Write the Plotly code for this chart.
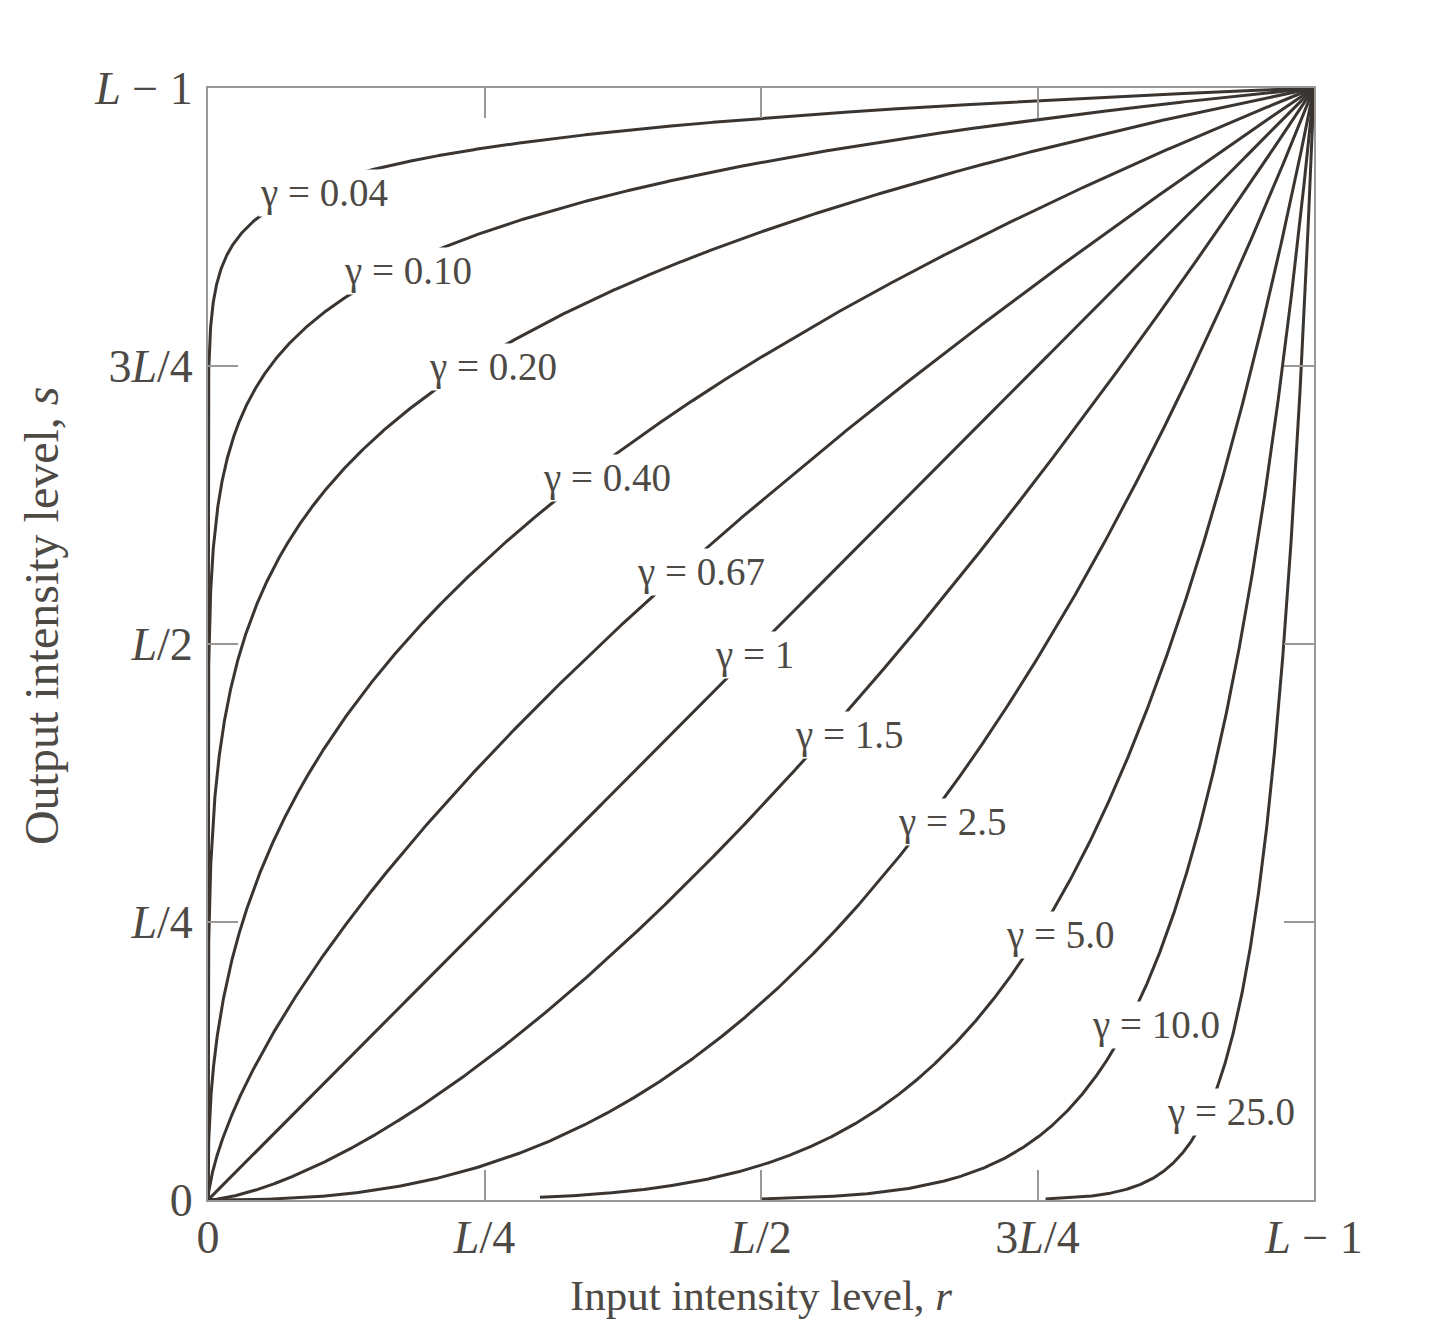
import numpy as np
import plotly.graph_objects as go

# ---- data ----
gammas = [0.04, 0.10, 0.20, 0.40, 0.67, 1.0, 1.5, 2.5, 5.0, 10.0, 25.0]
gamma_labels = ["γ = 0.04", "γ = 0.10", "γ = 0.20", "γ = 0.40", "γ = 0.67", "γ = 1",
                "γ = 1.5", "γ = 2.5", "γ = 5.0", "γ = 10.0", "γ = 25.0"]
# where each curve starts (input level, fraction of L-1)
curve_start_r = [3.5e-14, 0, 0, 0, 0, 0, 0, 0, 0.30, 0.50, 0.757]
# label anchor positions (fraction of L-1)
label_r = [0.105, 0.181, 0.258, 0.361, 0.446, 0.494, 0.580, 0.673, 0.770, 0.857, 0.925]
label_s = [0.906, 0.835, 0.749, 0.649, 0.565, 0.490, 0.418, 0.340, 0.238, 0.157, 0.079]

tick_vals = [0, 0.25, 0.5, 0.75, 1.0]
x_tick_text = ["0", "<i>L</i>/4", "<i>L</i>/2", "3<i>L</i>/4", "<i>L</i> − 1"]
y_tick_text = ["0", "<i>L</i>/4", "<i>L</i>/2", "3<i>L</i>/4", "<i>L</i> − 1"]

CURVE = "#3a3531"
TEXT = "#4d4945"
FRAME = "#9a9896"
FONT = "Liberation Serif"

r_grid = np.unique(np.concatenate([np.linspace(0, 1, 3000), np.geomspace(1e-15, 1, 3000)]))

fig = go.Figure()
for g, r0 in zip(gammas, curve_start_r):
    r = r_grid[r_grid >= r0]
    s = np.power(r, g)
    fig.add_trace(go.Scatter(x=r, y=s, mode="lines",
                             line=dict(color=CURVE, width=3), hoverinfo="skip",
                             showlegend=False))

for txt, xr, ys in zip(gamma_labels, label_r, label_s):
    fig.add_annotation(x=xr, y=ys, xref="x", yref="y", text=txt, showarrow=False,
                       font=dict(family=FONT, size=39, color=TEXT),
                       bgcolor="white", borderpad=1)

# y-axis title (placed slightly above the plot centre, as in the reference)
fig.add_annotation(x=-0.151, y=0.526, xref="paper", yref="paper",
                   text="Output intensity level, <i>s</i>", textangle=-90,
                   showarrow=False, xanchor="center", yanchor="middle",
                   font=dict(family=FONT, size=48, color=TEXT))

axis_common = dict(range=[0, 1], showgrid=False, zeroline=False, showline=True,
                   linecolor=FRAME, linewidth=2, mirror="ticks", ticks="inside",
                   ticklen=30, tickwidth=2, tickcolor=FRAME, tickvals=tick_vals,
                   tickfont=dict(family=FONT, size=46, color=TEXT), automargin=False)

fig.update_layout(
    width=1451, height=1330,
    margin=dict(l=208, r=137, t=88, b=130),
    paper_bgcolor="white", plot_bgcolor="white",
    xaxis=dict(**axis_common, ticktext=x_tick_text, ticklabelstandoff=-4,
               title=dict(text="Input intensity level, <i>r</i>",
                          font=dict(family=FONT, size=43, color=TEXT), standoff=18)),
    yaxis=dict(**axis_common, ticktext=y_tick_text, ticklabelstandoff=4),
)

fig.write_html("out.html", config={"displayModeBar": False},
               post_script="document.body.style.margin='0';document.body.style.overflow='hidden';")
